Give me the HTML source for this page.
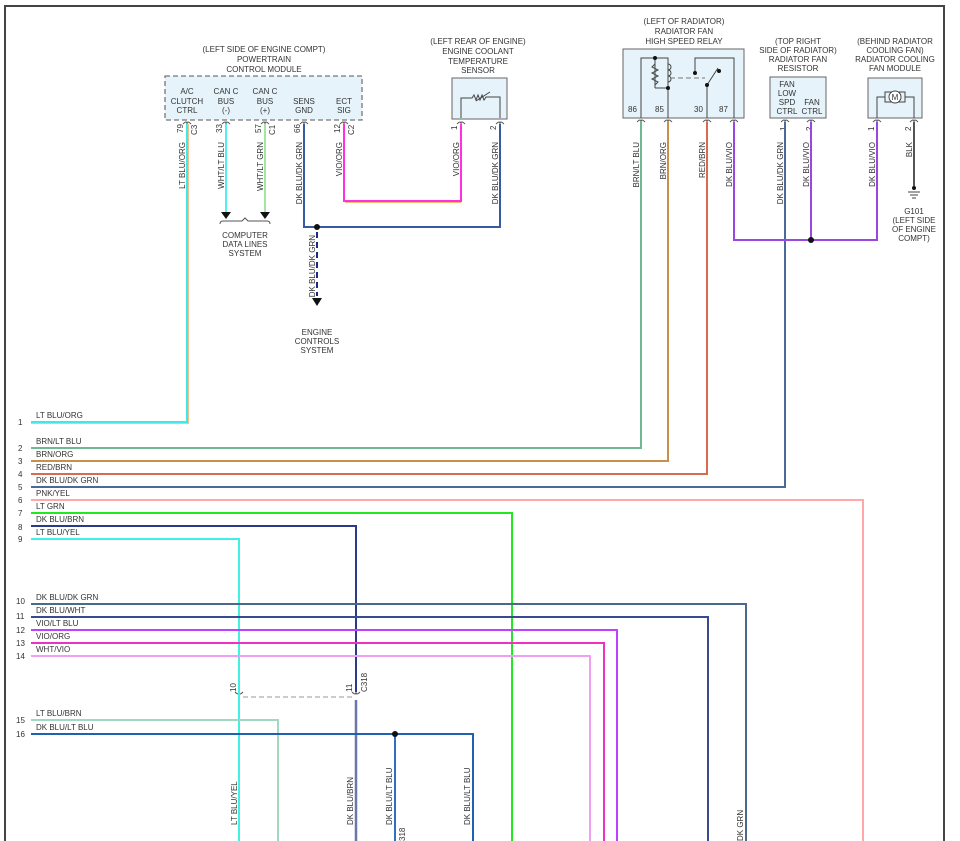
<!DOCTYPE html>
<html><head><meta charset="utf-8"><style>
html,body{margin:0;padding:0;background:#fff;}
svg{display:block;}
text{font-family:"Liberation Sans",sans-serif;font-size:8px;fill:#333;}
.c{text-anchor:middle;}
</style></head><body>
<svg width="960" height="841" viewBox="0 0 960 841" xmlns="http://www.w3.org/2000/svg">
<!-- frame -->
<path d="M5 841 V6 H944 V841" fill="none" stroke="#444" stroke-width="2"/>

<!-- PCM -->
<text class="c" x="264" y="52">(LEFT SIDE OF ENGINE COMPT)</text>
<text class="c" x="264" y="62">POWERTRAIN</text>
<text class="c" x="264" y="72">CONTROL MODULE</text>
<rect x="165" y="76" width="197" height="44" fill="#e6f3fa" stroke="#777" stroke-dasharray="5,3" stroke-width="1.3"/>
<text class="c" x="187" y="94">A/C</text><text class="c" x="187" y="104">CLUTCH</text><text class="c" x="187" y="113">CTRL</text>
<text class="c" x="226" y="94">CAN C</text><text class="c" x="226" y="104">BUS</text><text class="c" x="226" y="113">(-)</text>
<text class="c" x="265" y="94">CAN C</text><text class="c" x="265" y="104">BUS</text><text class="c" x="265" y="113">(+)</text>
<text class="c" x="304" y="104">SENS</text><text class="c" x="304" y="113">GND</text>
<text class="c" x="344" y="104">ECT</text><text class="c" x="344" y="113">SIG</text>

<!-- ECT sensor -->
<text class="c" x="478" y="44">(LEFT REAR OF ENGINE)</text>
<text class="c" x="478" y="54">ENGINE COOLANT</text>
<text class="c" x="478" y="64">TEMPERATURE</text>
<text class="c" x="478" y="73">SENSOR</text>
<rect x="452" y="78" width="55" height="41" fill="#e6f3fa" stroke="#666"/>
<path d="M461 118 V98 H472 l2-3 2 5 2-5 2 5 2-5 2 5 2-3 H500 V118" fill="none" stroke="#444"/>
<path d="M476 101 L490 92" stroke="#444"/>

<!-- Relay -->
<text class="c" x="684" y="24">(LEFT OF RADIATOR)</text>
<text class="c" x="684" y="34">RADIATOR FAN</text>
<text class="c" x="684" y="44">HIGH SPEED RELAY</text>
<rect x="623" y="49" width="121" height="69" fill="#e6f3fa" stroke="#666"/>
<path d="M641 118 V58 H668 V118 M655 58 V88 M655 88 H668" fill="none" stroke="#444"/>
<path d="M655 64 l-3 3 6 3 -6 3 6 3 -6 3 6 3 -3 3" fill="none" stroke="#444"/>
<path d="M668 64 a3 3 0 0 1 0 6 a3 3 0 0 1 0 6 a3 3 0 0 1 0 6" fill="none" stroke="#444"/>
<circle cx="655" cy="58" r="2" fill="#111"/><circle cx="668" cy="88" r="2" fill="#111"/>
<path d="M670 78 H705" stroke="#777" stroke-dasharray="5,3"/>
<path d="M707 118 V85 L718 68 M695 73 V58 H734 V118" fill="none" stroke="#444"/>
<circle cx="707" cy="85" r="2" fill="#111"/><circle cx="695" cy="73" r="2" fill="#111"/><circle cx="719" cy="71" r="2" fill="#111"/>
<text x="628" y="112">86</text><text x="655" y="112">85</text><text x="694" y="112">30</text><text x="719" y="112">87</text>

<!-- Resistor -->
<text class="c" x="798" y="44">(TOP RIGHT</text>
<text class="c" x="798" y="53">SIDE OF RADIATOR)</text>
<text class="c" x="798" y="62">RADIATOR FAN</text>
<text class="c" x="798" y="71">RESISTOR</text>
<rect x="770" y="77" width="56" height="41" fill="#e6f3fa" stroke="#666"/>
<text class="c" x="787" y="87">FAN</text><text class="c" x="787" y="96">LOW</text><text class="c" x="787" y="105">SPD</text><text class="c" x="787" y="114">CTRL</text>
<text class="c" x="812" y="105">FAN</text><text class="c" x="812" y="114">CTRL</text>

<!-- Fan module -->
<text class="c" x="895" y="44">(BEHIND RADIATOR</text>
<text class="c" x="895" y="53">COOLING FAN)</text>
<text class="c" x="895" y="62">RADIATOR COOLING</text>
<text class="c" x="895" y="71">FAN MODULE</text>
<rect x="868" y="78" width="54" height="40" fill="#e6f3fa" stroke="#666"/>
<path d="M877 118 V97 H885 M905 97 H914 V118" fill="none" stroke="#444"/>
<rect x="885" y="92" width="20" height="10" fill="none" stroke="#444"/>
<circle cx="895" cy="97" r="6" fill="#fff" stroke="#444"/>
<text class="c" x="895" y="100" style="font-size:8px">M</text>

<!-- connector symbols -->
<g fill="none" stroke="#555" stroke-width="1">
<path d="M183 124 q4-4 4 0 q0-4 4 0 M222 124 q4-4 4 0 q0-4 4 0 M261 124 q4-4 4 0 q0-4 4 0 M300 124 q4-4 4 0 q0-4 4 0 M340 124 q4-4 4 0 q0-4 4 0"/>
<path d="M457 124 q4-4 4 0 q0-4 4 0 M496 124 q4-4 4 0 q0-4 4 0"/>
<path d="M637 122 q4-4 4 0 q0-4 4 0 M664 122 q4-4 4 0 q0-4 4 0 M703 122 q4-4 4 0 q0-4 4 0 M730 122 q4-4 4 0 q0-4 4 0"/>
<path d="M781 122 q4-4 4 0 q0-4 4 0 M807 122 q4-4 4 0 q0-4 4 0 M873 122 q4-4 4 0 q0-4 4 0 M910 122 q4-4 4 0 q0-4 4 0"/>
<path d="M235 692 q4 4 4 0 q0 4 4 0 M352 692 q4 4 4 0 q0 4 4 0"/>
</g>

<!-- pin numbers -->
<g>
<text transform="translate(183,133) rotate(-90)">79</text><text transform="translate(197,135) rotate(-90)">C3</text>
<text transform="translate(222,133) rotate(-90)">33</text>
<text transform="translate(261,133) rotate(-90)">57</text><text transform="translate(275,135) rotate(-90)">C1</text>
<text transform="translate(300,133) rotate(-90)">66</text>
<text transform="translate(340,133) rotate(-90)">12</text><text transform="translate(354,135) rotate(-90)">C2</text>
<text transform="translate(457,130) rotate(-90)">1</text><text transform="translate(496,130) rotate(-90)">2</text>
<text transform="translate(786,131) rotate(-90)">1</text><text transform="translate(812,131) rotate(-90)">2</text>
<text transform="translate(874,131) rotate(-90)">1</text><text transform="translate(911,131) rotate(-90)">2</text>
<text transform="translate(236,692) rotate(-90)">10</text>
<text transform="translate(352,692) rotate(-90)">11</text>
<text transform="translate(367,692) rotate(-90)">C318</text>
<text transform="translate(405,841) rotate(-90)">318</text>
</g>

<!-- top wiring -->
<g fill="none" stroke-width="2">
<path d="M187 124 V422 H31" stroke="#40e8e8"/>
<path d="M188.5 124 V423.5 H31" stroke="#f0b070" stroke-width="0.8"/>
<path d="M226 124 V212" stroke="#50f0f0"/>
<path d="M265 124 V212" stroke="#a0e8a0"/>
<path d="M344 124 V201 H461 V124" stroke="#ff30e0"/>
<path d="M345 202.5 H461" stroke="#f0a040" stroke-width="0.8"/>
<path d="M304 124 V227 H500 V124" stroke="#3a5aa0"/>
<path d="M317 232 V296" stroke="#1a2a8a" stroke-dasharray="6,4"/>
<path d="M641 122 V448 H31" stroke="#70b890"/>
<path d="M668 122 V461 H31" stroke="#c8904a"/>
<path d="M707 122 V474 H31" stroke="#d86a50"/>
<path d="M785 122 V487 H31" stroke="#4a6a98"/>
<path d="M734 122 V240 H877 V122" stroke="#9848e0"/>
<path d="M811 122 V240" stroke="#9848e0"/>
<path d="M914 122 V186" stroke="#555"/>
</g>
<circle cx="317" cy="227" r="3" fill="#111"/>
<circle cx="811" cy="240" r="3" fill="#111"/>
<path d="M221 212 h10 l-5 7z M260 212 h10 l-5 7z M312 298 h10 l-5 8z" fill="#111"/>
<path d="M220 224 q0 -3 3 -3 h19 l3 -3 3 3 h19 q3 0 3 3" fill="none" stroke="#555"/>
<text class="c" x="245" y="238">COMPUTER</text><text class="c" x="245" y="247">DATA LINES</text><text class="c" x="245" y="256">SYSTEM</text>
<text class="c" x="317" y="335">ENGINE</text><text class="c" x="317" y="344">CONTROLS</text><text class="c" x="317" y="353">SYSTEM</text>
<!-- ground -->
<circle cx="914" cy="188" r="2" fill="#111"/>
<path d="M908 192 h12 M910 195 h8 M912 198 h4" stroke="#444"/>
<text class="c" x="914" y="214">G101</text><text class="c" x="914" y="223">(LEFT SIDE</text><text class="c" x="914" y="232">OF ENGINE</text><text class="c" x="914" y="241">COMPT)</text>

<!-- vertical wire labels top -->
<g>
<text transform="translate(185,142) rotate(-90)" text-anchor="end">LT BLU/ORG</text>
<text transform="translate(224,142) rotate(-90)" text-anchor="end">WHT/LT BLU</text>
<text transform="translate(263,142) rotate(-90)" text-anchor="end">WHT/LT GRN</text>
<text transform="translate(302,142) rotate(-90)" text-anchor="end">DK BLU/DK GRN</text>
<text transform="translate(342,142) rotate(-90)" text-anchor="end">VIO/ORG</text>
<text transform="translate(459,142) rotate(-90)" text-anchor="end">VIO/ORG</text>
<text transform="translate(498,142) rotate(-90)" text-anchor="end">DK BLU/DK GRN</text>
<text transform="translate(315,235) rotate(-90)" text-anchor="end">DK BLU/DK GRN</text>
<text transform="translate(639,142) rotate(-90)" text-anchor="end">BRN/LT BLU</text>
<text transform="translate(666,142) rotate(-90)" text-anchor="end">BRN/ORG</text>
<text transform="translate(705,142) rotate(-90)" text-anchor="end">RED/BRN</text>
<text transform="translate(732,142) rotate(-90)" text-anchor="end">DK BLU/VIO</text>
<text transform="translate(783,142) rotate(-90)" text-anchor="end">DK BLU/DK GRN</text>
<text transform="translate(809,142) rotate(-90)" text-anchor="end">DK BLU/VIO</text>
<text transform="translate(875,142) rotate(-90)" text-anchor="end">DK BLU/VIO</text>
<text transform="translate(912,142) rotate(-90)" text-anchor="end">BLK</text>
</g>

<!-- lower wiring -->
<g fill="none" stroke-width="2">
<path d="M31 500 H863 V841" stroke="#ffa8a8"/>
<path d="M31 513 H512 V841" stroke="#22e822"/>
<path d="M31 526 H356 V692" stroke="#2a3a8a"/>
<path d="M356 700 V841" stroke="#6a78a8" stroke-width="2.5"/>
<path d="M31 539 H239 V841" stroke="#40f0e0"/>
<path d="M31 604 H746 V841" stroke="#4a6a88"/>
<path d="M31 617 H708 V841" stroke="#3a4a90"/>
<path d="M31 630 H617 V841" stroke="#c040ff"/>
<path d="M31 643 H604 V841" stroke="#f030c0"/>
<path d="M31 656 H590 V841" stroke="#f0a0f0"/>
<path d="M31 720 H278 V841" stroke="#a0d8c0"/>
<path d="M31 734 H473 V841" stroke="#2060b0"/>
<path d="M395 734 V841" stroke="#3070c0"/>
</g>
<path d="M243 697 H352" stroke="#999" stroke-dasharray="5,3"/>
<circle cx="395" cy="734" r="3" fill="#111"/>

<!-- left numbers & labels -->
<g>
<text x="18" y="425">1</text><text x="36" y="418">LT BLU/ORG</text>
<text x="18" y="451">2</text><text x="36" y="444">BRN/LT BLU</text>
<text x="18" y="464">3</text><text x="36" y="457">BRN/ORG</text>
<text x="18" y="477">4</text><text x="36" y="470">RED/BRN</text>
<text x="18" y="490">5</text><text x="36" y="483">DK BLU/DK GRN</text>
<text x="18" y="503">6</text><text x="36" y="496">PNK/YEL</text>
<text x="18" y="516">7</text><text x="36" y="509">LT GRN</text>
<text x="18" y="530">8</text><text x="36" y="522">DK BLU/BRN</text>
<text x="18" y="542">9</text><text x="36" y="535">LT BLU/YEL</text>
<text x="16" y="604">10</text><text x="36" y="600">DK BLU/DK GRN</text>
<text x="16" y="619">11</text><text x="36" y="613">DK BLU/WHT</text>
<text x="16" y="633">12</text><text x="36" y="626">VIO/LT BLU</text>
<text x="16" y="646">13</text><text x="36" y="639">VIO/ORG</text>
<text x="16" y="659">14</text><text x="36" y="652">WHT/VIO</text>
<text x="16" y="723">15</text><text x="36" y="716">LT BLU/BRN</text>
<text x="16" y="737">16</text><text x="36" y="730">DK BLU/LT BLU</text>
</g>

<!-- bottom vertical labels -->
<g>
<text transform="translate(237,825) rotate(-90)">LT BLU/YEL</text>
<text transform="translate(353,825) rotate(-90)">DK BLU/BRN</text>
<text transform="translate(392,825) rotate(-90)">DK BLU/LT BLU</text>
<text transform="translate(470,825) rotate(-90)">DK BLU/LT BLU</text>
<text transform="translate(743,841) rotate(-90)">DK GRN</text>
</g>
</svg>
</body></html>
